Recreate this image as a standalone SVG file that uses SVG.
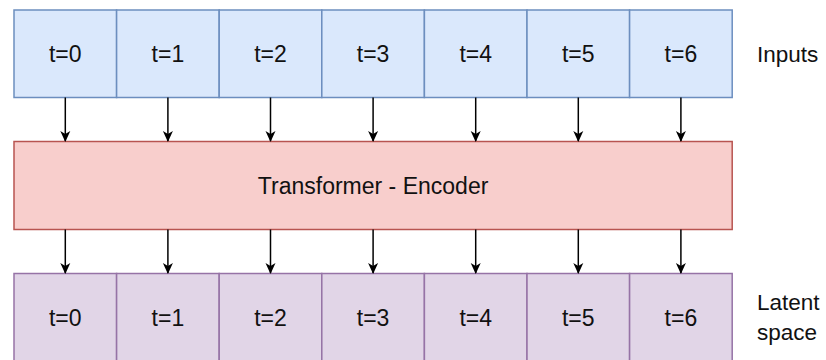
<svg xmlns="http://www.w3.org/2000/svg" width="826" height="360" viewBox="0 0 826 360">
<defs>
<style>
.in{fill:#dae8fc;stroke:#6c8ebf;stroke-width:1.5}
.enc{fill:#f8cecc;stroke:#b85450;stroke-width:1.5}
.lat{fill:#e1d5e7;stroke:#9673a6;stroke-width:1.5}
text{font-family:"Liberation Sans",Arial,sans-serif;font-size:23px;fill:#111;text-anchor:middle;dominant-baseline:central}
.lbl{text-anchor:start;font-size:22.5px}
.c{stroke:#000;stroke-width:1.5;fill:none;marker-end:url(#ah)}
</style>
<marker id="ah" markerWidth="12" markerHeight="12" refX="10" refY="6" orient="auto" markerUnits="userSpaceOnUse">
<path d="M0,1 L11,6 L0,11 L3,6 Z" fill="#000"/>
</marker>
</defs>
<g id="inputs">
<g id="in0"><rect class="in" x="14" y="10" width="102.6" height="87.5"/><text x="65.3" y="54">t=0</text></g>
<g id="in1"><rect class="in" x="116.6" y="10" width="102.6" height="87.5"/><text x="167.9" y="54">t=1</text></g>
<g id="in2"><rect class="in" x="219.2" y="10" width="102.6" height="87.5"/><text x="270.5" y="54">t=2</text></g>
<g id="in3"><rect class="in" x="321.8" y="10" width="102.6" height="87.5"/><text x="373.1" y="54">t=3</text></g>
<g id="in4"><rect class="in" x="424.4" y="10" width="102.6" height="87.5"/><text x="475.7" y="54">t=4</text></g>
<g id="in5"><rect class="in" x="527" y="10" width="102.6" height="87.5"/><text x="578.3" y="54">t=5</text></g>
<g id="in6"><rect class="in" x="629.6" y="10" width="102.6" height="87.5"/><text x="680.9" y="54">t=6</text></g>
</g>
<g id="inputs-label"><text class="lbl" x="757" y="54">Inputs</text></g>
<g id="encoder"><rect class="enc" x="14" y="141.5" width="718.2" height="88"/><text x="373.1" y="185.5">Transformer - Encoder</text></g>
<g id="latent">
<g id="lat0"><rect class="lat" x="14" y="273.5" width="102.6" height="100"/><text x="65.3" y="318">t=0</text></g>
<g id="lat1"><rect class="lat" x="116.6" y="273.5" width="102.6" height="100"/><text x="167.9" y="318">t=1</text></g>
<g id="lat2"><rect class="lat" x="219.2" y="273.5" width="102.6" height="100"/><text x="270.5" y="318">t=2</text></g>
<g id="lat3"><rect class="lat" x="321.8" y="273.5" width="102.6" height="100"/><text x="373.1" y="318">t=3</text></g>
<g id="lat4"><rect class="lat" x="424.4" y="273.5" width="102.6" height="100"/><text x="475.7" y="318">t=4</text></g>
<g id="lat5"><rect class="lat" x="527" y="273.5" width="102.6" height="100"/><text x="578.3" y="318">t=5</text></g>
<g id="lat6"><rect class="lat" x="629.6" y="273.5" width="102.6" height="100"/><text x="680.9" y="318">t=6</text></g>
</g>
<g id="latent-label"><text class="lbl" x="757" y="302">Latent</text><text class="lbl" x="757" y="332">space</text></g>
<g id="connectors">
<path class="c" d="M65.3,97.5 V141"/>
<path class="c" d="M167.9,97.5 V141"/>
<path class="c" d="M270.5,97.5 V141"/>
<path class="c" d="M373.1,97.5 V141"/>
<path class="c" d="M475.7,97.5 V141"/>
<path class="c" d="M578.3,97.5 V141"/>
<path class="c" d="M680.9,97.5 V141"/>
<path class="c" d="M65.3,229.5 V273"/>
<path class="c" d="M167.9,229.5 V273"/>
<path class="c" d="M270.5,229.5 V273"/>
<path class="c" d="M373.1,229.5 V273"/>
<path class="c" d="M475.7,229.5 V273"/>
<path class="c" d="M578.3,229.5 V273"/>
<path class="c" d="M680.9,229.5 V273"/>
</g>
</svg>
